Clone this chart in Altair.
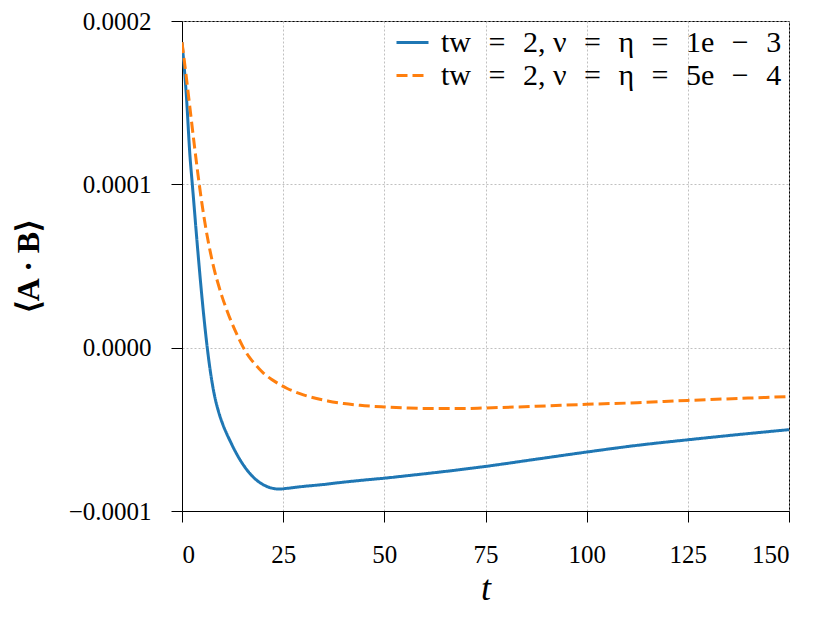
import altair as alt
import pandas as pd

SP = "\u2002\u200a"
S1 = f"tw{SP}={SP}2, ν{SP}={SP}η{SP}={SP}1e{SP}−{SP}3"
S2 = f"tw{SP}={SP}2, ν{SP}={SP}η{SP}={SP}5e{SP}−{SP}4"

t_blue = [0, 1.06, 1.98, 2.55, 4, 5, 6, 7, 8, 9, 10, 11, 12, 13, 14, 15, 16, 17, 18, 19, 20, 21, 22, 23, 24,
          26, 28, 31, 34.1, 39, 44, 50, 56, 62.5, 69, 75, 87.5, 100, 112.5, 125, 137.5, 150]
v_blue = [1.87, 1.55, 1.17, 1.0, 0.566, 0.291, 0.051, -0.144, -0.289, -0.389, -0.464, -0.524, -0.577, -0.627,
          -0.672, -0.712, -0.747, -0.777, -0.802, -0.822, -0.838, -0.85, -0.859, -0.864, -0.866,
          -0.861, -0.855, -0.847, -0.84, -0.826, -0.813, -0.799, -0.783, -0.765, -0.746, -0.727, -0.683, -0.639,
          -0.598, -0.564, -0.532, -0.502]

t_orange = [0, 1, 2, 3, 4, 5, 6, 7, 8, 9, 10, 11, 12, 13, 14, 15, 16, 17, 18, 19, 20, 22, 24, 26, 28, 30, 33,
            36, 40, 44, 50, 56, 62.5, 69, 75, 87.5, 100, 112.5, 125, 137.5, 150]
v_orange = [1.87, 1.67, 1.46, 1.25, 1.05, 0.87, 0.715, 0.585, 0.475, 0.385, 0.305, 0.235, 0.17, 0.112, 0.058,
            0.008, -0.035, -0.07, -0.10, -0.128, -0.153, -0.192, -0.223, -0.25, -0.271, -0.289, -0.31,
            -0.326, -0.342, -0.353, -0.363, -0.37, -0.373, -0.373, -0.369, -0.359, -0.347, -0.337, -0.323,
            -0.311, -0.299]

rows = []
for t, v in zip(t_blue, v_blue):
    rows.append({"t": t, "v": v * 1e-4, "s": S1})
for t, v in zip(t_orange, v_orange):
    rows.append({"t": t, "v": v * 1e-4, "s": S2})
df = pd.DataFrame(rows)

FONT = "Liberation Serif"

chart = alt.Chart(df).mark_line(strokeWidth=3, interpolate="monotone", clip=True).encode(
    x=alt.X("t:Q", title="t",
            scale=alt.Scale(domain=[0, 150], nice=False, zero=False),
            axis=alt.Axis(values=[0, 25, 50, 75, 100, 125, 150], titleFontStyle="italic",
                          titleFontWeight="normal", titleFontSize=36, titlePadding=4)),
    y=alt.Y("v:Q", title="⟨A · B⟩",
            scale=alt.Scale(domain=[-0.0001, 0.0002], nice=False, zero=False),
            axis=alt.Axis(values=[-0.0001, 0, 0.0001, 0.0002], format=".4f",
                          titleFontSize=32, titleFontWeight="bold", titlePadding=23)),
    color=alt.Color("s:N", sort=[S1, S2],
                    scale=alt.Scale(domain=[S1, S2], range=["#1f77b4", "#ff7f0e"]),
                    legend=alt.Legend(title=None, orient="none", legendX=213, legendY=4,
                                      symbolType="stroke", symbolSize=1024, symbolStrokeWidth=3,
                                      labelFontSize=30, labelFont=FONT, labelLimit=600,
                                      rowPadding=0, labelOffset=11, fillColor="transparent")),
    strokeDash=alt.StrokeDash("s:N", sort=[S1, S2],
                              scale=alt.Scale(domain=[S1, S2], range=[[1, 0], [11, 5]]),
                              legend=None),
).properties(
    width=607, height=490,
    autosize=alt.AutoSizeParams(type="none"),
    padding={"left": 174, "top": 13, "right": 30, "bottom": 100},
).configure(font=FONT).configure_axis(
    labelFont=FONT, titleFont=FONT, labelFontSize=25, labelColor="black", titleColor="black",
    domainColor="black", domainWidth=1, tickColor="black", tickWidth=1, tickSize=11,
    labelPadding=20, grid=True, gridColor="#b0b0b0", gridDash=[2, 2], gridWidth=0.8,
).configure_view(stroke="black", strokeWidth=1)

chart.save("out.html", embed_options={"renderer": "svg", "actions": False})
